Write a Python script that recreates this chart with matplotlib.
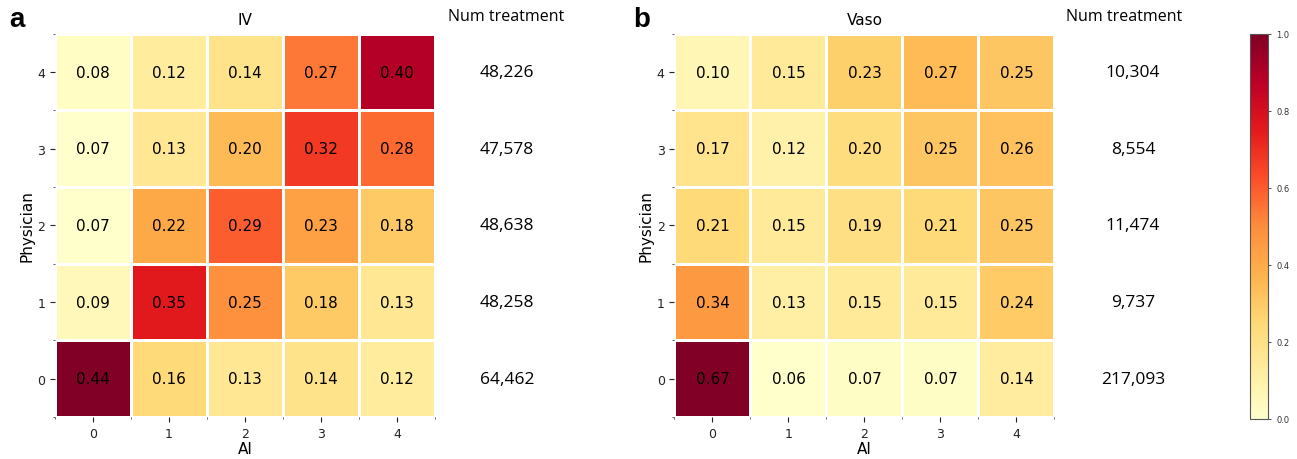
import numpy as np
import matplotlib
matplotlib.use("Agg")
import matplotlib.pyplot as plt
from matplotlib.colors import Normalize
from matplotlib.ticker import FixedLocator
import matplotlib.cm as cm

ai_labels = ["0", "1", "2", "3", "4"]
phys_labels = ["0", "1", "2", "3", "4"]

# rows: physician 0..4, cols: AI 0..4
iv_values = [
    [0.44, 0.16, 0.13, 0.14, 0.12],
    [0.09, 0.35, 0.25, 0.18, 0.13],
    [0.07, 0.22, 0.29, 0.23, 0.18],
    [0.07, 0.13, 0.20, 0.32, 0.28],
    [0.08, 0.12, 0.14, 0.27, 0.40],
]
vaso_values = [
    [0.67, 0.06, 0.07, 0.07, 0.14],
    [0.34, 0.13, 0.15, 0.15, 0.24],
    [0.21, 0.15, 0.19, 0.21, 0.25],
    [0.17, 0.12, 0.20, 0.25, 0.26],
    [0.10, 0.15, 0.23, 0.27, 0.25],
]
iv_counts = ["64,462", "48,258", "48,638", "47,578", "48,226"]
vaso_counts = ["217,093", "9,737", "11,474", "8,554", "10,304"]

cmap = plt.get_cmap("YlOrRd")

fig = plt.figure(figsize=(12.97, 4.6), dpi=100)

panels = [
    ("a", "IV", iv_values, iv_counts, [0.0424, 0.0913, 0.293, 0.833], 0.390, 0.391, 0.007),
    ("b", "Vaso", vaso_values, vaso_counts, [0.520, 0.0913, 0.293, 0.833], 0.867, 0.8735, 0.488),
]

for letter, title, vals, counts, rect, head_x, count_x, letter_x in panels:
    ax = fig.add_axes(rect)
    arr = np.array(vals)
    norm_arr = (arr - arr.min()) / (arr.max() - arr.min())
    ax.pcolormesh(np.arange(6), np.arange(6), norm_arr, cmap=cmap,
                  vmin=0, vmax=1, edgecolors="white", linewidth=1.8)
    for i in range(5):
        for j in range(5):
            ax.text(j + 0.5, i + 0.5, f"{arr[i, j]:.2f}", ha="center", va="center",
                    fontsize=11, color="black")
    ax.set_xlim(0, 5)
    ax.set_ylim(0, 5)
    ax.set_xticks(np.arange(5) + 0.5)
    ax.set_xticklabels(ai_labels)
    ax.set_yticks(np.arange(5) + 0.5)
    ax.set_yticklabels(phys_labels)
    ax.xaxis.set_minor_locator(FixedLocator(np.arange(6)))
    ax.yaxis.set_minor_locator(FixedLocator(np.arange(6)))
    ax.tick_params(which="major", length=3.5, width=0.8, labelsize=9, colors="#222222")
    ax.tick_params(which="minor", length=1.5, width=0.6, colors="#444444")
    for s in ax.spines.values():
        s.set_visible(False)
    ax.set_xlabel("AI", fontsize=11, labelpad=1)
    ax.set_ylabel("Physician", fontsize=11, labelpad=2)
    ax.set_title(title, fontsize=11, pad=7)
    # panel letter
    fig.text(letter_x, 0.941, letter, fontsize=20, fontweight="bold",
             family="Liberation Sans", ha="left", va="baseline")
    # num treatment column
    fig.text(head_x, 0.962, "Num treatment", fontsize=11.5, family="Open Sans",
             ha="center", va="center")
    for i, c in enumerate(counts):
        y_data = i + 0.5
        disp = ax.transData.transform((0, y_data))
        yfig = fig.transFigure.inverted().transform(disp)[1]
        fig.text(count_x, yfig, c, fontsize=12.5, family="Open Sans",
                 ha="center", va="center")

cax = fig.add_axes([0.9638, 0.087, 0.0139, 0.837])
cb = fig.colorbar(cm.ScalarMappable(norm=Normalize(0, 1), cmap=cmap), cax=cax)
cb.set_ticks([0.0, 0.2, 0.4, 0.6, 0.8, 1.0])
cb.ax.tick_params(labelsize=6, length=2.5, width=0.6, colors="#333333")
cb.outline.set_edgecolor("#555555")
cb.outline.set_linewidth(0.8)

fig.savefig("out.png", dpi=100)
